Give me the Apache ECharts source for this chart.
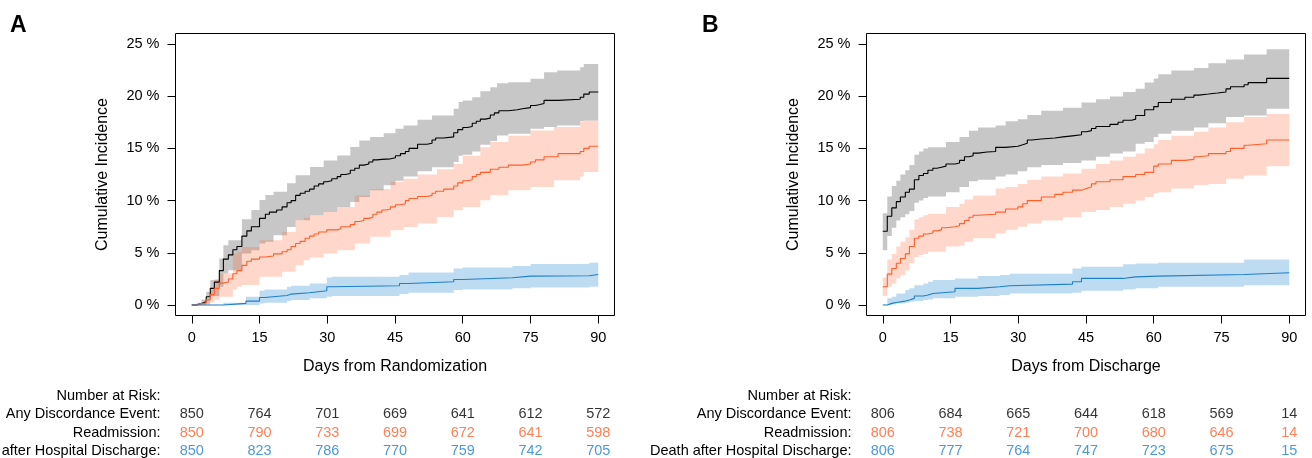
<!DOCTYPE html>
<html><head><meta charset="utf-8">
<script src="https://cdn.jsdelivr.net/npm/echarts@6/dist/echarts.min.js"></script>
<style>html,body{margin:0;padding:0;background:#fff}#c{width:1312px;height:458px}</style>
</head><body><div id="c"></div>
<script>
const xTicks = [0, 15, 30, 45, 60, 75, 90];
const yTicks = [0, 5, 10, 15, 20, 25];
const rowLabels = ['Number at Risk:', 'Any Discordance Event:', 'Readmission:', 'Death after Hospital Discharge:'];
const groupNames = ['Any Discordance Event', 'Readmission', 'Death after Hospital Discharge'];

// ---- Panel A: cumulative incidence estimates [day, %] ----
const anyA = [[0,0],[1.1,0.16],[2.2,0.32],[3.2,0.8],[4.1,1.6],[5.0,2.2],[6.1,3.3],[7.0,4.4],[8.1,4.8],[9.1,5.3],[10.0,5.6],[11.1,6.6],[12.2,7.1],[13.2,7.5],[15.0,8.3],[16.3,8.7],[17.2,8.9],[18.8,9.1],[20.0,9.4],[21.1,9.8],[22.0,10.0],[23.0,10.5],[24.0,10.7],[25.1,10.9],[26.1,11.1],[27.1,11.4],[28.1,11.6],[29.2,11.8],[29.9,11.9],[31.0,12.1],[32.2,12.3],[33.0,12.5],[34.0,12.6],[35.1,12.9],[36.1,13.1],[37.1,13.4],[38.1,13.5],[39.2,13.7],[40.1,13.9],[41.0,13.95],[42.1,14.0],[44.0,14.1],[45.1,14.3],[46.2,14.5],[47.3,14.7],[48.1,15.0],[50.0,15.4],[52.1,15.5],[53.2,15.8],[54.0,16.0],[55.8,16.1],[58.0,16.5],[58.9,16.8],[60.0,17.0],[61.0,17.1],[62.1,17.4],[63.0,17.6],[63.9,17.8],[65.0,17.9],[66.1,18.2],[67.0,18.4],[68.0,18.6],[70.1,18.7],[72.1,18.8],[73.2,18.9],[75.0,19.1],[76.1,19.2],[77.1,19.3],[78.0,19.6],[81.1,19.7],[86.0,19.9],[86.8,20.2],[88.0,20.4],[90,20.4]];
const readmA = [[0,0],[1.1,0.16],[2.2,0.2],[3.2,0.5],[4.1,1.0],[5.0,1.6],[6.1,2.1],[7.0,2.2],[8.1,2.5],[9.1,3.0],[10.0,3.3],[11.1,3.8],[12.2,4.2],[13.2,4.4],[15.0,4.6],[16.3,4.7],[18.1,4.9],[20.0,5.1],[21.1,5.3],[22.0,5.6],[23.0,5.9],[24.0,6.1],[25.1,6.4],[26.1,6.6],[27.1,6.8],[28.1,7.0],[29.9,7.2],[32.2,7.3],[33.0,7.5],[35.1,7.7],[36.1,8.0],[37.1,8.1],[38.1,8.3],[39.2,8.4],[40.1,8.7],[41.0,8.9],[42.1,9.1],[43.1,9.2],[44.0,9.4],[45.1,9.6],[46.2,9.7],[47.3,10.0],[48.1,10.2],[50.0,10.4],[52.1,10.5],[53.2,10.7],[54.0,10.9],[55.8,11.1],[58.0,11.4],[58.9,11.7],[60.0,11.9],[61.0,12.0],[62.1,12.3],[63.0,12.5],[63.9,12.7],[66.1,13.0],[68.0,13.2],[70.1,13.4],[73.2,13.5],[75.0,13.7],[76.1,13.9],[78.0,14.2],[81.1,14.5],[86.0,14.7],[86.8,15.0],[88.0,15.2],[90,15.2]];
const deathA = [[0,0],[7.0,0.16],[12.0,0.38],[15.0,0.73],[16.1,0.92],[21.1,1.05],[22.0,1.18],[26.1,1.37],[29.9,1.75],[31.0,1.85],[46.0,2.07],[48.0,2.23],[58.0,2.45],[60.0,2.61],[71.0,2.77],[75.0,2.8],[88.0,2.93],[90,2.93]];

// ---- Panel A: confidence bands [day, lower %, upper %] ----
const bandAnyA = [[0,0,0],[1.1,0,0.22],[2.2,0,0.54],[3.2,0.16,1.27],[4.1,0.86,2.39],[6.1,1.75,4.46],[7.0,3.03,5.73],[8.1,3.34,6.21],[11.1,4.94,8.22],[13.2,5.25,9.11],[15.0,5.89,10.06],[16.3,6.05,10.54],[18.1,6.69,10.86],[21.1,7.48,11.66],[23.0,8.12,12.42],[26.2,8.6,13.22],[29.2,8.92,13.85],[32.2,9.39,14.33],[35.1,9.87,15.13],[37.1,10.35,15.76],[39.5,10.99,16.08],[42.5,11.46,16.46],[45.1,11.9,16.88],[46.9,12.3,17.2],[50.0,12.8,17.74],[53.2,13.2,18.15],[58.0,13.7,18.79],[59.1,14.3,19.43],[60.0,14.4,19.59],[62.1,14.7,19.9],[63.9,15.35,20.48],[66.1,15.7,20.86],[67.6,16.24,21.24],[70.1,16.4,21.34],[75.0,16.88,21.66],[78.0,17.04,22.29],[80.9,17.2,22.45],[86.0,17.61,22.77],[86.8,17.68,23.09],[90,17.68,23.09]];
const bandReadmA = [[0,0,0],[2.2,0,0.22],[4.1,0.22,1.43],[5.0,0.5,2.5],[6.1,0.8,3.03],[9.1,1.5,4.94],[10.0,1.75,5.1],[11.1,1.91,5.57],[15.0,2.71,6.21],[20.0,3.18,7.0],[23.0,3.82,8.12],[24.8,4.3,8.35],[26.1,4.55,8.6],[29.2,4.94,8.92],[32.2,5.25,9.39],[36.1,5.89,10.5],[39.5,6.53,11.1],[44.0,7.17,11.8],[46.9,7.48,12.1],[50.0,7.8,12.5],[54.3,8.44,13.0],[58.0,9.08,13.5],[60.0,9.39,14.3],[63.9,10.03,15.1],[66.1,10.51,15.6],[70.1,10.99,16.2],[75.0,11.3,16.72],[80.2,11.94,17.04],[86.0,12.32,17.52],[86.8,12.74,17.68],[90,12.74,17.68]];
const bandDeathA = [[0,0,0],[7.0,0,0.22],[12.0,0,0.8],[15.0,0.16,1.37],[16.1,0.22,1.5],[21.1,0.38,1.75],[22.0,0.48,1.85],[26.1,0.64,2.07],[29.9,0.8,2.64],[31.0,0.86,2.71],[46.0,1.05,2.87],[48.0,1.18,3.12],[58.0,1.43,3.5],[60.0,1.5,3.6],[71.0,1.6,3.73],[75.0,1.69,3.92],[88.0,1.75,4.04],[90,1.75,4.04]];

// ---- Panel B: cumulative incidence estimates [day, %] ----
const anyB = [[0,7.07],[1.0,8.5],[2.0,9.3],[3.0,9.9],[3.9,10.35],[5.0,10.8],[5.9,11.1],[7.0,12.0],[8.0,12.4],[9.0,12.6],[10.0,12.9],[11.1,13.1],[12.0,13.2],[13.0,13.3],[14.0,13.5],[16.0,13.6],[17.0,13.85],[18.1,14.2],[19.1,14.3],[20.0,14.55],[21.1,14.65],[23.1,14.7],[25.0,15.1],[27.2,15.2],[29.9,15.35],[31.0,15.5],[32.0,15.8],[33.0,15.9],[35.1,16.0],[38.1,16.1],[39.9,16.2],[42.0,16.3],[44.0,16.6],[45.1,16.7],[46.2,16.9],[47.2,17.1],[50.3,17.3],[52.1,17.5],[53.2,17.7],[55.1,17.8],[56.0,18.15],[58.0,18.7],[60.0,19.0],[61.0,19.4],[63.9,19.7],[66.9,19.9],[68.9,20.1],[70.0,20.2],[72.1,20.3],[74.1,20.4],[76.0,20.7],[77.0,20.9],[80.0,21.1],[80.9,21.3],[85.0,21.7],[90,21.7]];
const readmB = [[0,1.75],[1.0,2.96],[2.0,3.5],[3.0,4.0],[3.9,4.46],[5.0,4.9],[5.9,5.6],[7.0,6.4],[8.0,6.6],[9.0,6.8],[10.0,6.9],[11.1,7.1],[12.0,7.2],[13.0,7.4],[14.0,7.5],[16.0,7.6],[17.0,7.8],[18.1,8.1],[19.1,8.4],[20.0,8.6],[21.1,8.7],[25.0,8.9],[27.2,9.2],[29.9,9.4],[31.0,9.7],[32.0,10.0],[35.1,10.35],[38.1,10.6],[39.9,10.8],[42.0,11.0],[44.0,11.15],[45.1,11.3],[46.2,11.6],[47.2,11.8],[50.3,12.0],[53.2,12.3],[56.0,12.5],[58.0,12.7],[60.0,13.3],[61.0,13.5],[63.9,13.85],[66.9,13.95],[68.9,14.2],[70.0,14.3],[72.1,14.5],[76.0,14.7],[77.0,15.0],[80.0,15.3],[80.9,15.45],[85.0,15.8],[90,15.8]];
const deathB = [[0,0],[1.0,0.16],[2.0,0.25],[3.0,0.38],[5.0,0.48],[5.9,0.64],[7.0,0.86],[9.0,0.96],[10.0,1.1],[11.1,1.27],[16.0,1.6],[21.1,1.75],[25.9,1.85],[28.1,2.0],[42.0,2.23],[44.0,2.55],[53.2,2.7],[56.0,2.77],[61.0,2.93],[80.0,3.09],[90,3.09]];

// ---- Panel B: confidence bands [day, lower %, upper %] ----
const bandAnyB = [[0,5.25,8.8],[1.0,6.6,10.4],[2.0,7.4,11.4],[3.0,8.1,11.9],[3.9,8.4,12.5],[5.0,8.7,12.9],[5.9,9.0,13.4],[7.0,9.8,14.4],[8.0,10.0,14.7],[9.0,10.25,15.0],[10.0,10.4,15.1],[14.0,10.8,15.6],[17.0,11.3,16.1],[19.1,11.85,16.7],[21.1,12.0,17.0],[25.0,12.3,17.2],[27.2,12.5,17.6],[29.9,12.8,17.8],[32.0,13.2,18.2],[35.1,13.4,18.6],[39.9,13.6,18.9],[44.0,13.85,19.4],[47.2,14.2,19.7],[50.3,14.5,19.97],[53.2,14.7,20.4],[56.0,15.45,20.7],[58.0,15.6,21.3],[60.0,16.1,21.7],[61.0,16.4,22.1],[63.9,16.7,22.45],[68.9,17.0,22.7],[72.1,17.4,23.15],[76.0,18.0,23.5],[80.0,18.15,24.0],[85.0,18.8,24.5],[90,18.8,24.5]];
const bandReadmB = [[0,0.86,2.64],[1.0,1.75,4.36],[2.0,2.07,4.9],[3.0,2.55,5.6],[3.9,2.87,6.05],[5.0,3.3,6.5],[5.9,4.0,7.2],[7.0,4.6,8.2],[8.0,4.8,8.4],[9.0,4.9,8.6],[10.0,5.1,8.75],[14.0,5.6,9.4],[17.0,5.7,9.7],[18.1,6.05,10.1],[20.0,6.4,10.5],[25.0,6.85,11.15],[27.2,7.2,11.3],[29.9,7.5,11.6],[32.0,7.8,12.0],[35.1,8.1,12.3],[39.9,8.4,12.6],[44.0,8.9,13.05],[47.2,9.1,13.5],[50.3,9.4,13.85],[53.2,9.7,14.2],[56.0,10.0,14.5],[58.0,10.35,15.0],[60.0,10.7,15.4],[61.0,10.8,15.8],[63.9,11.15,16.2],[68.9,11.5,16.6],[72.1,11.6,17.0],[76.0,12.1,17.5],[80.0,12.4,18.0],[85.0,13.3,18.3],[90,13.3,18.3]];
const bandDeathB = [[0,0,0.06],[1.0,0,0.64],[2.0,0.06,0.8],[3.0,0.16,1.1],[5.0,0.22,1.43],[5.9,0.32,1.6],[7.0,0.38,1.9],[9.0,0.48,2.07],[10.0,0.54,2.23],[11.1,0.64,2.4],[16.0,0.8,2.55],[21.1,0.86,2.77],[25.9,0.96,2.87],[28.1,1.1,3.0],[42.0,1.18,3.5],[44.0,1.37,3.66],[53.2,1.5,3.9],[56.0,1.6,3.98],[61.0,1.75,4.04],[80.0,1.9,4.36],[90,1.9,4.36]];

// ---- Number at risk at xTicks ----
const riskAnyA = [850, 764, 701, 669, 641, 612, 572];
const riskReadmA = [850, 790, 733, 699, 672, 641, 598];
const riskDeathA = [850, 823, 786, 770, 759, 742, 705];
const riskAnyB = [806, 684, 665, 644, 618, 569, 14];
const riskReadmB = [806, 738, 721, 700, 680, 646, 14];
const riskDeathB = [806, 777, 764, 747, 723, 675, 15];

const FONT = '"Liberation Sans", Arial, Helvetica, sans-serif';
const C_ANY = '#000000', C_READM = '#FF5F2C', C_DEATH = '#1E7FCB';
const F_ANY = 'rgba(0,0,0,0.22)', F_READM = 'rgba(255,98,48,0.25)', F_DEATH = 'rgba(40,140,210,0.3)';

function bandSeries(name, band, color, ai) {
  return {
    name: name, type: 'custom', xAxisIndex: ai, yAxisIndex: ai, z: 1, silent: true,
    data: band, encode: { x: 0, y: [1, 2] },
    renderItem: function (params, api) {
      if (params.dataIndex !== 0) return null;
      const pts = [];
      for (let i = 0; i < band.length - 1; i++) {
        pts.push(api.coord([band[i][0], band[i][2]]));
        pts.push(api.coord([band[i + 1][0], band[i][2]]));
      }
      for (let i = band.length - 2; i >= 0; i--) {
        pts.push(api.coord([band[i + 1][0], band[i][1]]));
        pts.push(api.coord([band[i][0], band[i][1]]));
      }
      return { type: 'polygon', shape: { points: pts }, style: { fill: color } };
    }
  };
}
function estSeries(name, data, color, ai) {
  return { name: name, type: 'line', xAxisIndex: ai, yAxisIndex: ai, data: data, step: 'end',
    symbol: 'none', showSymbol: false, z: 3, silent: true,
    lineStyle: { color: color, width: 1.1 } };
}
function riskSeries(name, vals, row, color, ai) {
  return { name: name, type: 'scatter', xAxisIndex: ai, yAxisIndex: ai, symbol: 'circle', symbolSize: 1,
    clip: false, silent: true, itemStyle: { color: 'rgba(0,0,0,0)' },
    data: vals.map((v, i) => [xTicks[i], row, v]),
    label: { show: true, position: 'inside', formatter: p => String(p.value[2]),
      color: color, fontSize: 14.5, fontFamily: FONT } };
}
function mainX(gi, name) {
  return { type: 'value', gridIndex: gi, min: -3.6, max: 93.6, name: name,
    nameLocation: 'middle', nameGap: 43,
    nameTextStyle: { fontSize: 16, color: '#000', fontFamily: FONT },
    axisLine: { show: false, onZero: false }, splitLine: { show: false },
    axisTick: { show: true, customValues: xTicks, length: 8, lineStyle: { color: '#000' } },
    axisLabel: { customValues: xTicks, margin: 15, fontSize: 14.5, color: '#000', fontFamily: FONT } };
}
function mainY(gi) {
  return { type: 'value', gridIndex: gi, min: -1, max: 26, name: 'Cumulative Incidence',
    nameLocation: 'middle', nameGap: 65, nameRotate: 90,
    nameTextStyle: { fontSize: 16, color: '#000', fontFamily: FONT },
    axisLine: { show: false, onZero: false }, splitLine: { show: false },
    axisTick: { show: true, customValues: yTicks, length: 8, lineStyle: { color: '#000' } },
    axisLabel: { customValues: yTicks, margin: 16, fontSize: 14.5, color: '#000', fontFamily: FONT,
      formatter: v => v + ' %' } };
}
function riskX(gi) {
  return { type: 'value', gridIndex: gi, min: -3.6, max: 93.6, show: false,
    axisLine: { onZero: false } };
}
function riskY(gi) {
  return { type: 'value', gridIndex: gi, min: 0, max: 3, inverse: true,
    axisLine: { show: false, onZero: false }, axisTick: { show: false }, splitLine: { show: false },
    axisLabel: { customValues: [0, 1, 2, 3], showMinLabel: true, showMaxLabel: true, margin: 15,
      fontSize: 14.5, color: '#000', fontFamily: FONT, formatter: v => rowLabels[Math.round(v)] } };
}

const baseGrid = { outerBoundsMode: 'none', containLabel: false };
const gridA = Object.assign({ left: 175.5, width: 439, top: 33.5, height: 282, show: true, borderColor: '#000', borderWidth: 1 }, baseGrid);
const gridB = Object.assign({ left: 866.5, width: 439, top: 33.5, height: 282, show: true, borderColor: '#000', borderWidth: 1 }, baseGrid);
const riskGridA = Object.assign({ left: 175.5, width: 439, top: 396, height: 55, show: false }, baseGrid);
const riskGridB = Object.assign({ left: 866.5, width: 439, top: 396, height: 55, show: false }, baseGrid);

const chart = echarts.init(document.getElementById('c'), null, { renderer: 'canvas' });
chart.setOption({
  animation: false,
  backgroundColor: '#fff',
  title: [
    { text: 'A', left: 10, top: 14, padding: 0, textStyle: { fontSize: 23, fontWeight: 'bold', color: '#000', fontFamily: FONT } },
    { text: 'B', left: 702, top: 14, padding: 0, textStyle: { fontSize: 23, fontWeight: 'bold', color: '#000', fontFamily: FONT } }
  ],
  grid: [gridA, gridB, riskGridA, riskGridB],
  xAxis: [mainX(0, 'Days from Randomization'), mainX(1, 'Days from Discharge'), riskX(2), riskX(3)],
  yAxis: [mainY(0), mainY(1), riskY(2), riskY(3)],
  series: [
    bandSeries(groupNames[0], bandAnyA, F_ANY, 0),
    bandSeries(groupNames[1], bandReadmA, F_READM, 0),
    bandSeries(groupNames[2], bandDeathA, F_DEATH, 0),
    estSeries(groupNames[0], anyA, C_ANY, 0),
    estSeries(groupNames[1], readmA, C_READM, 0),
    estSeries(groupNames[2], deathA, C_DEATH, 0),
    bandSeries(groupNames[0], bandAnyB, F_ANY, 1),
    bandSeries(groupNames[1], bandReadmB, F_READM, 1),
    bandSeries(groupNames[2], bandDeathB, F_DEATH, 1),
    estSeries(groupNames[0], anyB, C_ANY, 1),
    estSeries(groupNames[1], readmB, C_READM, 1),
    estSeries(groupNames[2], deathB, C_DEATH, 1),
    riskSeries(groupNames[0], riskAnyA, 1, C_ANY, 2),
    riskSeries(groupNames[1], riskReadmA, 2, C_READM, 2),
    riskSeries(groupNames[2], riskDeathA, 3, C_DEATH, 2),
    riskSeries(groupNames[0], riskAnyB, 1, C_ANY, 3),
    riskSeries(groupNames[1], riskReadmB, 2, C_READM, 3),
    riskSeries(groupNames[2], riskDeathB, 3, C_DEATH, 3)
  ]
});
</script></body></html>
